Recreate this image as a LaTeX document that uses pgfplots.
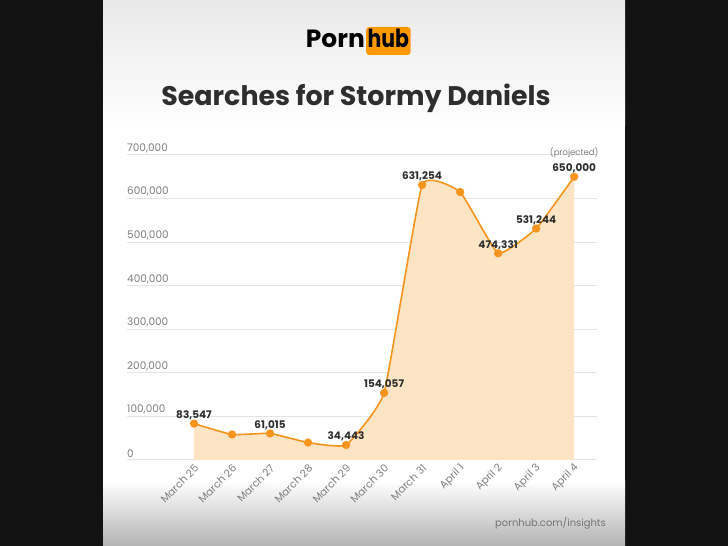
\documentclass[border=0pt]{standalone}
\usepackage{fontspec}
\setmainfont{Poppins}
\usepackage{pgfplots}
\pgfplotsset{compat=1.18}
\definecolor{phorange}{HTML}{F7941D}
\definecolor{phlogo}{HTML}{FF9900}
\definecolor{phfill}{HTML}{FCE4C5}
\definecolor{labtxt}{HTML}{2E2E2E}
\definecolor{ticktxt}{HTML}{808080}
\definecolor{gridc}{HTML}{E4E4E4}
\begin{document}
\begin{tikzpicture}
\fill[black!93] (0bp,0bp) rectangle (728bp,546bp);
\fill[white] (103bp,0bp) rectangle (625bp,546bp);
\shade[top color=black!9, bottom color=white] (103bp,420bp) rectangle (625bp,546bp);
\shade[top color=white, bottom color=black!30] (103bp,0bp) rectangle (625bp,65bp);
% logo
\node[anchor=base east, inner sep=0pt, font=\bfseries\fontsize{25}{25}\selectfont] at (365bp,498bp) {Porn};
\node[anchor=base west, fill=phlogo, rounded corners=3bp, inner xsep=1.5bp, inner ysep=0pt, text height=21bp, text depth=7bp, font=\bfseries\fontsize{25}{25}\selectfont] at (366bp,498bp) {\scalebox{0.82}[1]{hub}};
% title
\node[anchor=base, inner sep=0pt, text=labtxt, font=\bfseries\fontsize{27}{27}\selectfont] at (356bp,440bp) {Searches for Stormy Daniels};
% footer
\node[anchor=east, inner sep=0pt, text=ticktxt!90!black, font=\fontsize{10}{10}\selectfont] at (606bp,23bp) {pornhub.com/insights};
\begin{axis}[at={(127bp,86bp)}, anchor=south west, scale only axis,
  width=470bp, height=305bp,
  xmin=-1.763, xmax=10.6, ymin=0, ymax=700000,
  axis line style={draw=none}, major tick length=0pt,
  ymajorgrids, grid style={gridc, line width=1bp},
  ytick={0,100000,...,700000}, scaled y ticks=false,
  yticklabel={\pgfmathprintnumber[fixed,1000 sep={,}]{\tick}},
  /pgf/number format/assume math mode=true,
  yticklabel style={anchor=south west, inner sep=0pt, yshift=2bp, text=ticktxt, font=\fontsize{10.5}{10.5}\selectfont},
  xtick={0,...,10},
  xticklabels={March 25,March 26,March 27,March 28,March 29,March 30,March 31,April 1,April 2,April 3,April 4},
  xticklabel style={xshift=5bp, yshift=-4bp, rotate=45, anchor=east, text=ticktxt, font=\fontsize{10.5}{10.5}\selectfont},
  clip=false]
\addplot[draw=none, fill=phfill, smooth, tension=0.22] table {
x y
0 83547
1 58500
2 61015
3 40000
4 34443
5 154057
6 631254
7 615000
8 474331
9 531244
10 650000
} \closedcycle;
\addplot[phorange, line width=1.6bp, smooth, tension=0.22, mark=*, mark size=3.3bp, mark options={fill=phorange, draw=phorange}] table {
x y
0 83547
1 58500
2 61015
3 40000
4 34443
5 154057
6 631254
7 615000
8 474331
9 531244
10 650000
};
\begin{scope}[every node/.style={anchor=south, inner sep=0pt, yshift=3.5bp, text=labtxt, font=\bfseries\fontsize{10.5}{10.5}\selectfont}]
\node at (axis cs:0,83547) {83,547};
\node at (axis cs:2,61015) {61,015};
\node at (axis cs:4,34443) {34,443};
\node at (axis cs:5,154057) {154,057};
\node at (axis cs:6,631254) {631,254};
\node at (axis cs:8,474331) {474,331};
\node at (axis cs:9,531244) {531,244};
\node at (axis cs:10,650000) {650,000};
\end{scope}
\node[anchor=south, inner sep=0pt, yshift=19bp, text=ticktxt, font=\fontsize{8.5}{8.5}\selectfont] at (axis cs:10,650000) {(projected)};
\end{axis}
\end{tikzpicture}
\end{document}
